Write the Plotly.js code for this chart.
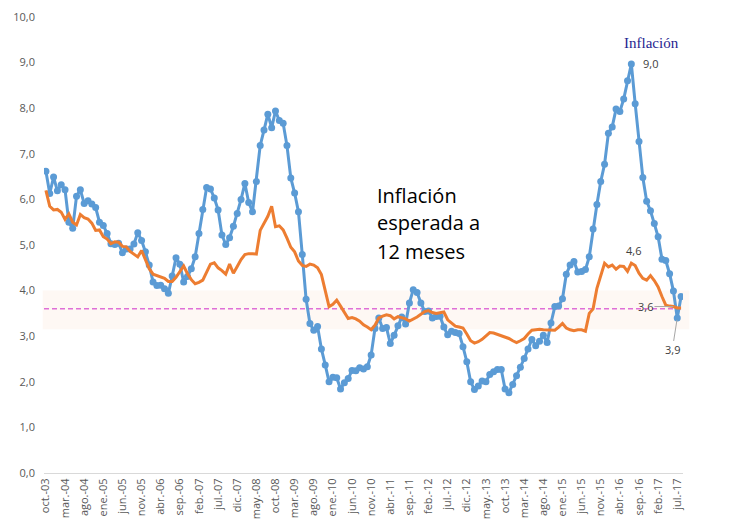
<!DOCTYPE html>
<html>
<head>
<meta charset="utf-8">
<script src="https://cdn.plot.ly/plotly-3.0.1.min.js"></script>
<style>html,body{margin:0;padding:0;background:#fff;}#chart{width:738px;height:522px;}</style>
</head>
<body>
<div id="chart"></div>
<script>
// Month names (Spanish) and the start of the series: oct-2003
const monthNames = ["ene.","feb.","mar.","abr.","may.","jun.","jul.","ago.","sep.","oct.","nov.","dic."];
const startYear = 2003, startMonth = 9, nMonths = 167;
const months = [];
for (let k = 0; k < nMonths; k++) {
  const m = (startMonth + k) % 12;
  const y = startYear + Math.floor((startMonth + k) / 12);
  months.push(monthNames[m] + "-" + String(y % 100).padStart(2, "0"));
}

// Annual inflation (%), oct-03 .. ago-17
const inflation = [
  6.62, 6.13, 6.49,
  6.19, 6.32, 6.21, 5.50, 5.37, 6.07, 6.21, 5.91, 5.97, 5.90, 5.82, 5.50,
  5.43, 5.25, 5.03, 5.01, 5.04, 4.83, 4.91, 4.91, 5.02, 5.27, 5.10, 4.85,
  4.56, 4.19, 4.11, 4.12, 4.04, 3.94, 4.32, 4.72, 4.58, 4.19, 4.31, 4.48,
  4.74, 5.25, 5.78, 6.26, 6.23, 6.03, 5.77, 5.22, 5.01, 5.16, 5.41, 5.69,
  6.00, 6.35, 5.93, 5.73, 6.39, 7.18, 7.52, 7.87, 7.57, 7.94, 7.73, 7.67,
  7.18, 6.47, 6.14, 5.73, 4.79, 3.81, 3.28, 3.13, 3.21, 2.72, 2.37, 2.00,
  2.10, 2.09, 1.84, 1.98, 2.07, 2.25, 2.24, 2.31, 2.28, 2.33, 2.59, 3.17,
  3.40, 3.17, 3.19, 2.84, 3.02, 3.23, 3.42, 3.27, 3.73, 4.02, 3.96, 3.73,
  3.54, 3.55, 3.40, 3.43, 3.44, 3.20, 3.03, 3.11, 3.08, 3.06, 2.77, 2.44,
  2.00, 1.83, 1.91, 2.02, 2.00, 2.16, 2.22, 2.27, 2.27, 1.84, 1.76, 1.94,
  2.13, 2.32, 2.51, 2.72, 2.93, 2.79, 2.89, 3.02, 2.86, 3.29, 3.65, 3.66,
  3.82, 4.36, 4.56, 4.64, 4.41, 4.42, 4.46, 4.74, 5.35, 5.89, 6.39, 6.77,
  7.45, 7.59, 7.98, 7.93, 8.20, 8.60, 8.97, 8.10, 7.27, 6.48, 5.96, 5.75,
  5.47, 5.18, 4.69, 4.66, 4.37, 3.99, 3.40, 3.87
];

// Expected inflation 12 months ahead (%), oct-03 .. ago-17
const expected = [
  6.20, 5.85, 5.77,
  5.78, 5.72, 5.56, 5.68, 5.50, 5.44, 5.67, 5.60, 5.57, 5.48, 5.32, 5.33,
  5.18, 5.13, 5.03, 5.07, 5.06, 4.97, 4.96, 4.86, 4.80, 4.74, 4.88, 4.68,
  4.48, 4.36, 4.33, 4.30, 4.27, 4.20, 4.20, 4.29, 4.42, 4.54, 4.37, 4.24,
  4.15, 4.18, 4.23, 4.40, 4.58, 4.61, 4.50, 4.44, 4.36, 4.58, 4.38, 4.53,
  4.68, 4.79, 4.81, 4.81, 4.80, 5.32, 5.48, 5.63, 5.85, 5.40, 5.42, 5.33,
  5.15, 4.95, 4.85, 4.65, 4.55, 4.53, 4.58, 4.56, 4.50, 4.35, 4.00, 3.65,
  3.70, 3.79, 3.66, 3.52, 3.39, 3.41, 3.38, 3.33, 3.25, 3.20, 3.14, 3.24,
  3.40, 3.44, 3.47, 3.45, 3.38, 3.43, 3.40, 3.38, 3.33, 3.37, 3.42, 3.48,
  3.54, 3.56, 3.52, 3.50, 3.52, 3.53, 3.36, 3.29, 3.22, 3.20, 3.18, 3.05,
  2.90, 2.85, 2.88, 2.93, 3.00, 3.08, 3.07, 3.04, 3.01, 2.98, 2.95, 2.90,
  2.86, 2.90, 2.95, 3.05, 3.13, 3.14, 3.15, 3.14, 3.14, 3.14, 3.13, 3.20,
  3.28, 3.18, 3.14, 3.12, 3.14, 3.14, 3.11, 3.50, 3.60, 4.05, 4.35, 4.60,
  4.52, 4.56, 4.47, 4.54, 4.53, 4.42, 4.60, 4.55, 4.38, 4.27, 4.23, 4.33,
  4.22, 4.08, 3.87, 3.68, 3.66, 3.65, 3.62, 3.62
];

// Target range and centre
const bandLow = 3.15, bandHigh = 4.0, bandMid = 3.6;

// Tick labels every 5 months
const tickLabels = months.filter((_, i) => i % 5 === 0);

const peakIdx = inflation.indexOf(Math.max(...inflation));
const expLabelIdx = months.indexOf("jul.-16");
const expEndIdx = months.indexOf("jun.-17");
const lastLabelIdx = months.indexOf("jul.-17");

const tickFont = {family: "Open Sans, Arial, sans-serif", size: 11, color: "#595959"};
const labelFont = {family: "Open Sans, Arial, sans-serif", size: 11, color: "#404040"};
const bigFont = {family: "Open Sans, Arial, sans-serif", size: 20, color: "#000000"};

const traces = [
  {
    x: months, y: inflation, type: "scatter", mode: "lines+markers",
    line: {color: "#5B9BD5", width: 3},
    marker: {color: "#5B9BD5", size: 7},
    hoverinfo: "skip", name: "Inflación"
  },
  {
    x: months, y: expected, type: "scatter", mode: "lines",
    line: {color: "#ED7D31", width: 3},
    hoverinfo: "skip", name: "Inflación esperada a 12 meses"
  }
];

const layout = {
  width: 738, height: 522,
  margin: {l: 44, r: 55, t: 17, b: 49},
  paper_bgcolor: "#ffffff", plot_bgcolor: "#ffffff",
  showlegend: false,
  separators: ",.",
  xaxis: {
    type: "category",
    range: [-0.5, nMonths - 0.5],
    tickmode: "array", tickvals: tickLabels, ticktext: tickLabels,
    tickangle: -90, tickfont: tickFont,
    showgrid: false, zeroline: false,
    showline: true, linecolor: "#D9D9D9", linewidth: 1,
    ticks: ""
  },
  yaxis: {
    range: [0, 10],
    tickmode: "array", tickvals: [0,1,2,3,4,5,6,7,8,9,10],
    tickformat: ".1f", tickfont: tickFont,
    showgrid: false, zeroline: false, showline: false, ticks: "",
    ticklabelstandoff: 8
  },
  shapes: [
    {type: "rect", xref: "paper", yref: "y", x0: -0.002, x1: 1.01, y0: bandLow, y1: bandHigh,
     fillcolor: "rgba(250,222,205,0.22)", line: {width: 0}, layer: "below"},
    {type: "line", xref: "paper", yref: "y", x0: 0, x1: 1, y0: bandMid, y1: bandMid,
     line: {color: "#D02CC8", width: 1, dash: "5px,3px"}, layer: "below"}
  ],
  annotations: [
    {xref: "paper", yref: "paper", x: 0.518, y: 0.6096, xanchor: "left", yanchor: "middle",
     text: "Inflación", showarrow: false, font: bigFont},
    {xref: "paper", yref: "paper", x: 0.518, y: 0.5504, xanchor: "left", yanchor: "middle",
     text: "esperada a", showarrow: false, font: bigFont},
    {xref: "paper", yref: "paper", x: 0.518, y: 0.4853, xanchor: "left", yanchor: "middle",
     text: "12 meses", showarrow: false, font: bigFont},
    {xref: "paper", yref: "paper", x: 0.951, y: 0.9436, xanchor: "center", yanchor: "middle",
     text: "Inflación", showarrow: false,
     font: {family: "Liberation Serif, Times New Roman, serif", size: 15, color: "#1F2590"}},
    {x: months[peakIdx], y: inflation[peakIdx], xanchor: "left", yanchor: "middle",
     xshift: 10, text: "9,0", showarrow: false, font: labelFont},
    {x: months[expLabelIdx], y: expected[expLabelIdx], xanchor: "center", yanchor: "bottom",
     xshift: 2, yshift: 3, text: "4,6", showarrow: false, font: labelFont},
    {x: months[expEndIdx], y: expected[expEndIdx], text: "3,6", showarrow: true,
     ax: -28, ay: 0, arrowhead: 0, arrowwidth: 1, arrowcolor: "#A6A6A6", standoff: 0,
     font: labelFont},
    {x: months[lastLabelIdx], y: inflation[lastLabelIdx], text: "3,9", showarrow: true,
     ax: -5, ay: 32, arrowhead: 0, arrowwidth: 1, arrowcolor: "#A6A6A6", standoff: 2,
     font: labelFont}
  ]
};

Plotly.newPlot("chart", traces, layout, {staticPlot: true, displayModeBar: false});
</script>
</body>
</html>
